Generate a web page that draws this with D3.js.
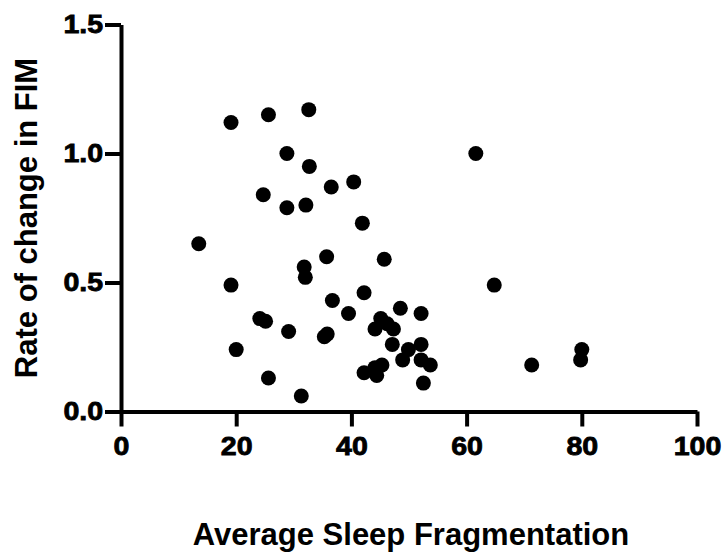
<!DOCTYPE html>
<html lang="en">
<head>
    <meta charset="UTF-8">
    <title>Sleep Fragmentation vs FIM</title>
    <script src="https://d3js.org/d3.v7.min.js"></script>
    <style>
        body { margin: 0; background: #fff; }
        svg { display: block; }
    </style>
</head>
<body>
    <script>
        // data
        const fragmentation = [13.5, 19.1, 25.6, 32.6, 28.8, 32.7, 24.7, 28.8, 32.1, 36.5,
                               40.4, 41.9, 61.6, 19.1, 35.7, 31.8, 32.0, 45.7, 64.8, 42.2,
                               36.7, 39.5, 48.5, 52.1, 45.1, 44.1, 46.2, 47.3, 24.1, 25.1,
                               29.1, 35.3, 35.8, 20.0, 25.6, 31.3, 47.1, 49.9, 48.9, 52.1,
                               52.1, 53.7, 45.3, 44.1, 42.2, 44.4, 52.5, 71.3, 80.0, 79.8];
        const fimRate = [0.65, 1.12, 1.15, 1.17, 1.00, 0.95, 0.84, 0.79, 0.80, 0.87,
                         0.89, 0.73, 1.00, 0.49, 0.60, 0.56, 0.52, 0.59, 0.49, 0.46,
                         0.43, 0.38, 0.40, 0.38, 0.36, 0.32, 0.34, 0.32, 0.36, 0.35,
                         0.31, 0.29, 0.30, 0.24, 0.13, 0.06, 0.26, 0.24, 0.20, 0.26,
                         0.20, 0.18, 0.18, 0.17, 0.15, 0.14, 0.11, 0.18, 0.24, 0.20];
        const xTicks = [0, 20, 40, 60, 80, 100];
        const yTicks = [0, 0.5, 1.0, 1.5];

        const w = 723, h = 555;
        const padLeft = 121, padRight = 697, padTop = 24.5, padBottom = 411.5;
        const font = "'Liberation Sans', Arial, sans-serif";

        const svg = d3.select("body").append("svg")
            .attr("width", w)
            .attr("height", h);

        const x = d3.scaleLinear().domain([0, 100]).range([padLeft, padRight]);
        const y = d3.scaleLinear().domain([0, 1.5]).range([padBottom, padTop]);

        // tick digits in the original are wide and heavy, so stretch them a bit
        function styleAxis(g) {
            g.attr("font-size", null).attr("font-family", null);
            g.selectAll("path, line").attr("stroke", "#000").attr("stroke-width", 4);
            g.selectAll("text")
                .attr("fill", "#000")
                .attr("stroke", "#000")
                .attr("stroke-width", 0.8)
                .attr("transform", "scale(1.12,1)")
                .style("font-family", font)
                .style("font-weight", "bold")
                .style("font-size", "25.5px");
        }

        svg.append("g")
            .attr("transform", `translate(0,${padBottom})`)
            .call(d3.axisBottom(x).tickValues(xTicks).tickSize(15).tickSizeOuter(0).tickPadding(10))
            .call(styleAxis);

        svg.append("g")
            .attr("transform", `translate(${padLeft},0)`)
            .call(d3.axisLeft(y).tickValues(yTicks).tickFormat(d3.format(".1f")).tickSize(16).tickSizeOuter(0).tickPadding(0))
            .call(styleAxis);

        // points
        svg.append("g")
            .selectAll("circle")
            .data(fragmentation)
            .join("circle")
            .attr("cx", d => x(d))
            .attr("cy", (d, i) => y(fimRate[i]))
            .attr("r", 7.5)
            .attr("fill", "#000");

        // axis titles
        svg.append("text")
            .attr("transform", `translate(37,${(padTop + padBottom) / 2}) rotate(-90)`)
            .attr("text-anchor", "middle")
            .style("font-family", font)
            .style("font-weight", "bold")
            .style("font-size", "31px")
            .text("Rate of change in FIM");

        svg.append("text")
            .attr("x", (padLeft + padRight) / 2 + 2)
            .attr("y", 545)
            .attr("text-anchor", "middle")
            .style("font-family", font)
            .style("font-weight", "bold")
            .style("font-size", "31px")
            .text("Average Sleep Fragmentation");
    </script>
</body>
</html>
